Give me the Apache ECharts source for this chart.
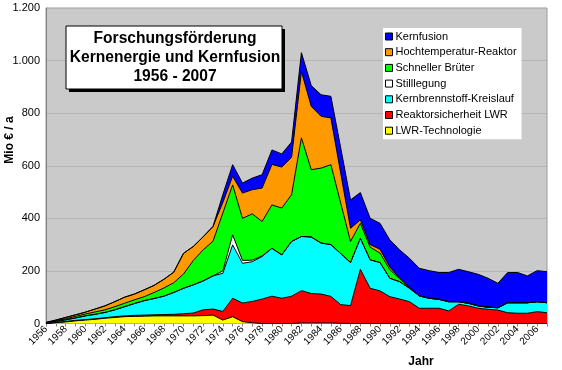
<!DOCTYPE html>
<html><head><meta charset="utf-8">
<script src="https://cdn.jsdelivr.net/npm/echarts@6/dist/echarts.min.js"></script>
<style>html,body{margin:0;padding:0;background:#fff}#c{width:562px;height:370px}</style>
</head><body><div id="c"></div>
<script>
const years = ['1956','1957','1958','1959','1960','1961','1962','1963','1964','1965','1966','1967','1968','1969','1970','1971','1972','1973','1974','1975','1976','1977','1978','1979','1980','1981','1982','1983','1984','1985','1986','1987','1988','1989','1990','1991','1992','1993','1994','1995','1996','1997','1998','1999','2000','2001','2002','2003','2004','2005','2006','2007'];

const lwrTechnologie = [0,3,6,10,13,16,20,23,26,27,28,29,29,29,29,29,30,32,13,26,7,3,0,0,0,0,2,2,2,2,1,0,0,0,0,0,0,0,0,0,0,0,0,0,0,0,0,0,0,0,0,0];
const reaktorsicherheit = [0,1,2,2,2,2,2,3,3,4,4,4,5,6,8,11,22,23,33,70,71,81,93,104,96,104,123,112,110,101,71,68,206,134,124,102,93,83,58,58,58,48,73,67,58,54,51,41,39,39,45,41];
const kernbrennstoff = [2,4,6,9,14,17,20,26,35,45,55,62,70,83,97,107,110,126,145,203,151,151,162,182,165,208,206,215,194,197,194,164,118,108,108,70,66,51,47,38,34,35,10,10,9,8,9,38,40,40,38,38];
const stilllegung = [0,0,0,0,0,0,0,0,0,0,0,0,0,0,0,0,0,0,9,38,11,6,2,0,0,0,0,0,0,0,0,0,0,0,0,0,0,0,0,0,0,0,0,0,0,0,0,0,0,0,0,0];
const schnellerBrueter = [1,3,4,6,7,9,10,12,13,14,15,23,31,37,54,93,118,132,220,190,160,176,131,165,178,178,375,256,285,304,192,80,57,48,36,33,11,3,0,0,0,0,0,0,0,0,0,0,0,0,0,0];
const hochtemperatur = [1,2,5,6,7,11,15,19,23,22,26,27,33,40,79,53,50,56,40,33,96,92,127,154,156,142,253,241,197,178,114,50,13,10,14,10,2,0,0,0,0,0,0,0,0,0,0,0,0,0,0,0];
const kernfusion = [0,0,0,0,0,0,0,0,0,0,0,0,0,0,0,0,0,0,30,44,38,44,51,55,50,58,71,79,82,82,96,108,104,100,99,103,108,111,105,105,102,111,123,120,120,110,93,115,115,102,118,118];

const seriesNames = ['LWR-Technologie','Reaktorsicherheit LWR','Kernbrennstoff-Kreislauf','Stilllegung','Schneller Brüter','Hochtemperatur-Reaktor','Kernfusion'];
const seriesData = [lwrTechnologie, reaktorsicherheit, kernbrennstoff, stilllegung, schnellerBrueter, hochtemperatur, kernfusion];
const seriesColors = ['#FFFF00','#FF0000','#00FFFF','#FFFFFF','#00FF00','#FF9900','#0000FF'];
const yTicks = [0, 200, 400, 600, 800, 1000, 1200];

const FONT = '"Liberation Sans", Arial, sans-serif';
const chart = echarts.init(document.getElementById('c'), null, {renderer: 'canvas'});

function fmt(v) {
  if (v >= 1000) { return Math.floor(v / 1000) + '.' + String(v % 1000).padStart(3, '0'); }
  return String(v);
}

const series = seriesNames.map((n, i) => ({
  name: n,
  type: 'line',
  stack: 'total',
  data: seriesData[i],
  color: seriesColors[i],
  symbol: 'none',
  showSymbol: false,
  lineStyle: {color: '#000', width: 1},
  areaStyle: {color: seriesColors[i], opacity: 1},
  itemStyle: {color: seriesColors[i]},
  z: 2,
  animation: false
}));

chart.setOption({
  animation: false,
  backgroundColor: '#fff',
  textStyle: {fontFamily: FONT},
  grid: {left: 46, right: 15, top: 8, bottom: 46.5, show: true, backgroundColor: '#CACACA', borderColor: '#9a9a9a', borderWidth: 1},
  legend: {
    data: seriesNames.slice().reverse(),
    orient: 'vertical',
    left: 383, top: 28,
    backgroundColor: '#fff',
    padding: [2, 5, 2, 2],
    itemWidth: 7, itemHeight: 7, itemGap: 2.7,
    icon: 'rect',
    itemStyle: {borderColor: '#000', borderWidth: 1},
    textStyle: {fontSize: 11, color: '#000', fontFamily: FONT, lineHeight: 13, padding: [0,0,0,-2]},
    selectedMode: false
  },
  xAxis: {
    type: 'category',
    data: years,
    boundaryGap: false,
    axisLine: {lineStyle: {color: '#808080'}},
    axisTick: {show: true, interval: 0, length: 3, lineStyle: {color: '#808080'}},
    axisLabel: {interval: 1, rotate: 45, fontSize: 10, color: '#000', margin: 4, fontFamily: FONT},
    splitLine: {show: false}
  },
  yAxis: {
    type: 'value',
    min: yTicks[0], max: yTicks[yTicks.length - 1], interval: 200,
    axisLine: {show: true, lineStyle: {color: '#808080'}},
    axisTick: {show: false},
    axisLabel: {formatter: fmt, fontSize: 11, color: '#000', margin: 6, fontFamily: FONT},
    splitLine: {show: true, lineStyle: {color: '#B4B4B4', width: 1}}
  },
  graphic: [
    {type: 'rect', z: 100, shape: {x: 69, y: 29, width: 216, height: 63}, style: {fill: '#000'}},
    {type: 'rect', z: 101, shape: {x: 66, y: 26, width: 216, height: 63}, style: {fill: '#fff', stroke: '#000', lineWidth: 1}},
    {type: 'text', z: 102, x: 175, y: 39, style: {text: 'Forschungsförderung', font: 'bold 15.6px ' + FONT, fill: '#000', align: 'center', verticalAlign: 'middle'}},
    {type: 'text', z: 102, x: 175, y: 58, style: {text: 'Kernenergie und Kernfusion', font: 'bold 15.6px ' + FONT, fill: '#000', align: 'center', verticalAlign: 'middle'}},
    {type: 'text', z: 102, x: 175, y: 77, style: {text: '1956 - 2007', font: 'bold 15.6px ' + FONT, fill: '#000', align: 'center', verticalAlign: 'middle'}},
    {type: 'text', z: 102, x: 421, y: 362, style: {text: 'Jahr', font: 'bold 12px ' + FONT, fill: '#000', align: 'center', verticalAlign: 'middle'}},
    {type: 'text', z: 102, x: 10, y: 140, rotation: Math.PI / 2, style: {text: 'Mio € / a', font: 'bold 12px ' + FONT, fill: '#000', align: 'center', verticalAlign: 'middle'}}
  ],
  series: series
});
</script></body></html>
